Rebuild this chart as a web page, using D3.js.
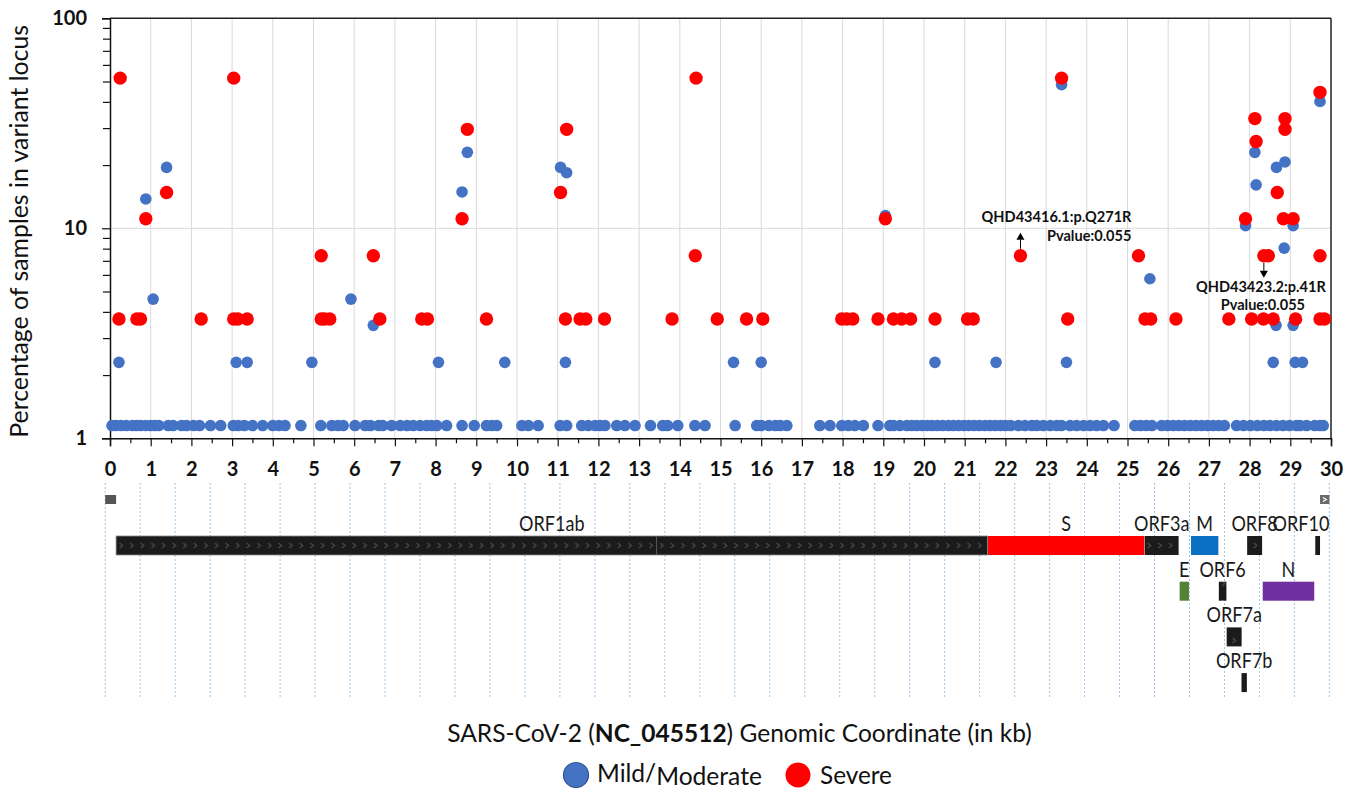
<!DOCTYPE html>
<html>
<head>
<meta charset="utf-8">
<script src="https://cdn.jsdelivr.net/npm/d3@7"></script>
<style>
  html, body { margin: 0; padding: 0; background: #fff; }
  svg { display: block; }
</style>
</head>
<body>
<svg id="chart" width="1355" height="788"></svg>
<script>
// ---------------- DATA ----------------
// Mild/Moderate (n=87): [genomic position in kb, % of samples]
const mildPoints = [
  [0.22,2.3],[0.88,13.8],[1.06,4.6],[1.39,19.5],[3.1,2.3],[3.37,2.3],[4.96,2.3],[5.92,4.6],
  [6.47,3.45],[8.07,2.3],[8.65,14.9],[8.78,23.0],[9.7,2.3],[11.07,19.5],[11.22,18.4],[11.19,2.3],
  [15.32,2.3],[16.0,2.3],[19.05,11.5],[20.27,2.3],[21.77,2.3],[23.38,48.3],[23.5,2.3],[25.55,5.75],
  [27.9,10.3],[28.13,23.0],[28.16,16.1],[28.58,2.3],[28.65,3.45],[28.66,19.5],[28.85,8.05],
  [28.87,20.7],[29.07,10.3],[29.07,3.45],[29.12,2.3],[29.3,2.3],[29.73,40.2]
];
// Mild/Moderate loci seen in a single sample (1/87 = 1.15 %)
const mildSingleKb = [
  0.05,0.15,0.27,0.4,0.55,0.65,0.75,0.88,1.0,1.1,1.2,1.43,1.55,1.76,1.88,2.05,2.2,2.47,2.72,
  3.03,3.15,3.3,3.5,3.75,4.0,4.15,4.3,4.69,5.18,5.45,5.6,5.73,6.02,6.27,6.4,6.6,6.7,6.92,
  7.13,7.3,7.45,7.62,7.78,7.9,8.03,8.27,8.65,8.95,9.25,9.38,9.5,10.12,10.28,10.52,11.06,11.22,
  11.59,11.75,11.92,12.04,12.16,12.45,12.65,12.9,13.28,13.58,13.7,13.95,14.37,14.62,15.36,
  15.89,16.0,16.19,16.35,16.47,16.63,17.44,17.69,17.98,18.14,18.3,18.51,18.87,19.16,
  19.25,19.41,19.58,19.7,19.82,19.95,20.08,20.2,20.33,20.46,20.6,20.72,20.85,20.98,21.1,21.23,
  21.36,21.5,21.62,21.75,21.88,22.0,22.13,22.32,22.48,22.65,22.77,22.93,23.1,23.26,23.38,
  23.59,23.75,23.92,24.08,24.24,24.41,24.67,25.18,25.32,25.46,25.6,25.84,25.98,26.12,26.26,
  26.4,26.54,26.68,26.82,26.96,27.1,27.24,27.38,27.68,27.85,28.02,28.19,28.35,28.5,28.66,
  28.82,28.98,29.15,29.24,29.4,29.6,29.73,29.81
];
const mildSingleValue = 1.15;

// Severe (n=27): [genomic position in kb, % of samples]
const severePoints = [
  [0.25,51.9],[0.22,3.7],[0.66,3.7],[0.75,3.7],[0.88,11.1],[1.39,14.8],[2.24,3.7],[3.04,51.9],
  [3.04,3.7],[3.14,3.7],[3.37,3.7],[5.19,7.4],[5.19,3.7],[5.27,3.7],[5.4,3.7],[6.47,7.4],
  [6.63,3.7],[7.66,3.7],[7.8,3.7],[8.65,11.1],[8.78,29.6],[9.25,3.7],[11.07,14.8],[11.22,29.6],
  [11.19,3.7],[11.55,3.7],[11.69,3.7],[12.15,3.7],[13.81,3.7],[14.4,51.9],[14.38,7.4],
  [14.92,3.7],[15.64,3.7],[16.04,3.7],[17.98,3.7],[18.1,3.7],[18.25,3.7],[18.87,3.7],
  [19.05,11.1],[19.25,3.7],[19.45,3.7],[19.67,3.7],[20.27,3.7],[21.07,3.7],[21.21,3.7],
  [22.37,7.4],[23.38,51.9],[23.53,3.7],[25.27,7.4],[25.43,3.7],[25.57,3.7],[26.19,3.7],
  [27.49,3.7],[27.9,11.1],[28.13,33.3],[28.16,25.9],[28.05,3.7],[28.34,3.7],[28.58,3.7],
  [28.35,7.4],[28.46,7.4],[28.68,14.8],[28.87,33.3],[28.87,29.6],[28.83,11.1],[29.07,11.1],
  [29.13,3.7],[29.73,44.4],[29.73,7.4],[29.73,3.7],[29.84,3.7]
];

// Axis ticks
const xTicks = d3.range(0, 31, 1);
const yTicks = [1, 10, 100];

// Annotations: [kb, %, line1, line2]
const annotations = [
  [22.37, 7.4, "QHD43416.1:p.Q271R", "Pvalue:0.055"],
  [28.35, 7.4, "QHD43423.2:p.41R", "Pvalue:0.055"]
];

// Genome annotation (NC_045512, bp)
const genomeLength = 29903;
const geneNames = ["ORF1ab","S","ORF3a","E","M","ORF6","ORF7a","ORF7b","ORF8","N","ORF10"];
const geneStart = [266, 21563, 25393, 26245, 26523, 27202, 27394, 27756, 27894, 28274, 29558];
const geneEnd   = [21555, 25384, 26220, 26472, 27191, 27387, 27759, 27887, 28259, 29533, 29674];
const geneLane  = [1, 1, 1, 2, 1, 2, 3, 4, 1, 2, 1];
const orf1abFrameshift = 13468;
const utrs = [[0, 266], [29674, 29903]];

// ---------------- STYLE ----------------
const geneColor = { S: "#ff0000", M: "#0b70c4", E: "#548235", N: "#7030a0" };
const blackGene = "#1b1b1b";
const chevronGenes = ["ORF1ab","ORF3a","ORF6","ORF7a","ORF8"];
const BLUE = "#4472c4", RED = "#ff0000";

const svg = d3.select("#chart");
svg.append("rect").attr("width", 1355).attr("height", 788).attr("fill", "#fff");

const x = d3.scaleLinear().domain([0, 30]).range([110, 1331]);
const y = d3.scaleLog().domain([1, 100]).range([438.3, 18.3]);
const g = d3.scaleLinear().domain([0, genomeLength]).range([105.2, 1329.4]);

const plotTop = y(100), plotBottom = y(1), plotLeft = x(0), plotRight = x(30);

function fitWidth(sel, target) {
  const w = sel.node().getComputedTextLength();
  const fs = parseFloat(sel.attr("font-size"));
  sel.attr("font-size", fs * target / w);
}

// ---- grid ----
const grid = svg.append("g");
grid.selectAll("line.vg").data(xTicks.slice(1, -1)).join("line")
  .attr("x1", d => x(d)).attr("x2", d => x(d))
  .attr("y1", plotTop).attr("y2", plotBottom)
  .attr("stroke", "#d9d9d9").attr("stroke-width", 1);
grid.append("line")
  .attr("x1", plotLeft).attr("x2", plotRight)
  .attr("y1", y(10)).attr("y2", y(10))
  .attr("stroke", "#d9d9d9").attr("stroke-width", 1);

// frame (top/right)
svg.append("line").attr("x1", plotLeft).attr("x2", plotRight).attr("y1", plotTop).attr("y2", plotTop)
  .attr("stroke", "#222").attr("stroke-width", 1.5);
svg.append("line").attr("x1", plotRight).attr("x2", plotRight).attr("y1", plotTop).attr("y2", plotBottom)
  .attr("stroke", "#222").attr("stroke-width", 1.5);

// ---- axes ----
const xAxis = svg.append("g").attr("transform", `translate(0,${plotBottom})`)
  .call(d3.axisBottom(x).tickValues(xTicks).tickSize(8).tickFormat(d3.format("d")));
svg.append("g").attr("transform", `translate(0,${plotBottom})`)
  .call(d3.axisBottom(x).tickValues(d3.range(0.5, 30, 1)).tickSize(5).tickFormat(""))
  .call(s => s.select(".domain").remove());
xAxis.selectAll("text").attr("y", 38).attr("dy", 0)
  .attr("font-family", "Lato, sans-serif").attr("font-weight", "bold")
  .attr("font-size", 20).attr("fill", "#111");

const yAxis = svg.append("g").attr("transform", `translate(${plotLeft},0)`)
  .call(d3.axisLeft(y).tickValues(yTicks).tickSize(8).tickFormat(d3.format("d")));
const yMinor = [];
[1, 10].forEach(b => { for (let k = 2; k <= 9; k++) yMinor.push(b * k); });
svg.append("g").attr("transform", `translate(${plotLeft},0)`)
  .call(d3.axisLeft(y).tickValues(yMinor).tickSize(7).tickFormat(""))
  .call(s => s.select(".domain").remove());
yAxis.selectAll("text").attr("x", -23)
  .attr("font-family", "Lato, sans-serif").attr("font-weight", "bold")
  .attr("font-size", 20).attr("fill", "#111");
svg.selectAll(".domain").attr("stroke", "#111").attr("stroke-width", 1.5);
svg.selectAll(".tick line").attr("stroke", "#111").attr("stroke-width", 1.2);

// y title
const yTitle = svg.append("text")
  .attr("transform", `translate(28,${(plotTop + plotBottom) / 2 + 3}) rotate(-90)`)
  .attr("text-anchor", "middle")
  .attr("font-family", "Lato, sans-serif").attr("font-size", 22).attr("fill", "#111")
  .text("Percentage of samples in variant locus");
fitWidth(yTitle, 413);

// ---- points ----
const pts = svg.append("g");
pts.selectAll("circle.single").data(mildSingleKb).join("circle")
  .attr("cx", d => x(d)).attr("cy", y(mildSingleValue)).attr("r", 5.8).attr("fill", BLUE);
pts.selectAll("circle.mild").data(mildPoints).join("circle")
  .attr("class", "mild")
  .attr("cx", d => x(d[0])).attr("cy", d => y(d[1])).attr("r", 5.8).attr("fill", BLUE);
pts.selectAll("circle.sev").data(severePoints).join("circle")
  .attr("class", "sev")
  .attr("cx", d => x(d[0])).attr("cy", d => y(d[1])).attr("r", 6.7).attr("fill", RED);

// ---- annotations ----
function arrow(x0, yFrom, yTip) {
  const dir = yTip < yFrom ? -1 : 1;
  const headLen = 7, headW = 4;
  svg.append("line").attr("x1", x0).attr("x2", x0).attr("y1", yFrom).attr("y2", yTip - dir * headLen)
    .attr("stroke", "#000").attr("stroke-width", 1);
  svg.append("path")
    .attr("d", `M${x0},${yTip} L${x0 - headW},${yTip - dir * headLen} L${x0 + headW},${yTip - dir * headLen} Z`)
    .attr("fill", "#000");
}
{
  const [kb, v, l1, l2] = annotations[0];
  const px = x(kb), py = y(v);
  arrow(px, py - 7, py - 23);
  const t1 = svg.append("text").attr("x", px + 111).attr("y", py - 34).attr("text-anchor", "end")
    .attr("font-family", "Lato, sans-serif").attr("font-weight", "bold").attr("font-size", 16)
    .attr("fill", "#111").text(l1);
  fitWidth(t1, 150);
  svg.append("text").attr("x", px + 111).attr("y", py - 15).attr("text-anchor", "end")
    .attr("font-family", "Lato, sans-serif").attr("font-weight", "bold").attr("font-size", t1.attr("font-size"))
    .attr("fill", "#111").text(l2);
}
{
  const [kb, v, l1, l2] = annotations[1];
  const px = x(kb), py = y(v);
  arrow(px, py + 7, py + 22);
  const t1 = svg.append("text").attr("x", px - 3).attr("y", py + 36).attr("text-anchor", "middle")
    .attr("font-family", "Lato, sans-serif").attr("font-weight", "bold").attr("font-size", 16)
    .attr("fill", "#111").text(l1);
  fitWidth(t1, 130);
  svg.append("text").attr("x", px - 1).attr("y", py + 54).attr("text-anchor", "middle")
    .attr("font-family", "Lato, sans-serif").attr("font-weight", "bold").attr("font-size", t1.attr("font-size"))
    .attr("fill", "#111").text(l2);
}

// ---------------- GENOME TRACK ----------------
const track = svg.append("g");
const laneTop = lane => 536 + (lane - 1) * 45.7;
const barH = 19;

// dotted grid (35 equal divisions of the genome)
track.selectAll("line.tg").data(d3.range(0, 36)).join("line")
  .attr("x1", d => g(d * genomeLength / 35)).attr("x2", d => g(d * genomeLength / 35))
  .attr("y1", 483).attr("y2", 697)
  .attr("stroke", "#9dc3e6").attr("stroke-width", 1).attr("stroke-dasharray", "2,2");

// chevron pattern
const defs = svg.append("defs");
const pat = defs.append("pattern").attr("id", "chev").attr("patternUnits", "userSpaceOnUse")
  .attr("x", g(geneStart[0])).attr("y", laneTop(1)).attr("width", 10.6).attr("height", barH);
pat.append("rect").attr("width", 10.6).attr("height", barH).attr("fill", blackGene);
pat.append("path").attr("d", "M3.5,7 L6.5,9.5 L3.5,12").attr("fill", "none")
  .attr("stroke", "#4a4a4a").attr("stroke-width", 1.2);

// UTR boxes
track.selectAll("rect.utr").data(utrs).join("rect")
  .attr("x", d => g(d[0])).attr("width", d => g(d[1]) - g(d[0]))
  .attr("y", 495).attr("height", 9).attr("fill", (d, i) => i === 0 ? "#555" : "#6a6a6a");
track.append("path")
  .attr("d", () => {
    const cx = (g(utrs[1][0]) + g(utrs[1][1])) / 2;
    return `M${cx - 1.8},497.5 L${cx + 1.6},499.5 L${cx - 1.8},501.5`;
  })
  .attr("fill", "none").attr("stroke", "#fff").attr("stroke-width", 1.2);

// gene bars
const genes = geneNames.map((n, i) => ({ name: n, s: geneStart[i], e: geneEnd[i], lane: geneLane[i] }));
track.selectAll("rect.gene").data(genes).join("rect")
  .attr("x", d => g(d.s)).attr("width", d => Math.max(3.5, g(d.e) - g(d.s)))
  .attr("y", d => laneTop(d.lane)).attr("height", barH)
  .attr("fill", d => geneColor[d.name] ? geneColor[d.name] : (chevronGenes.includes(d.name) ? "url(#chev)" : blackGene))
  .attr("stroke", d => d.name === "ORF1ab" ? "#8a8a8a" : "none").attr("stroke-width", 0.8);
// ORF1a / ORF1b frameshift seam
track.append("line")
  .attr("x1", g(orf1abFrameshift)).attr("x2", g(orf1abFrameshift))
  .attr("y1", laneTop(1)).attr("y2", laneTop(1) + barH)
  .attr("stroke", "#5a5a5a").attr("stroke-width", 1);

// gene labels
const labelScaleX = 0.86;
const trackRight = g(genomeLength);
genes.forEach(d => {
  const cx = (g(d.s) + g(d.e)) / 2;
  const t = track.append("text")
    .attr("text-anchor", "middle")
    .attr("font-family", "Lato, sans-serif").attr("font-size", 21).attr("fill", "#1a1a1a")
    .text(d.name);
  const w = t.node().getComputedTextLength() * labelScaleX;
  let lx = cx;
  if (lx + w / 2 > trackRight) lx = trackRight - w / 2;
  t.attr("transform", `translate(${lx},${laneTop(d.lane) - 5}) scale(${labelScaleX},1)`);
});

// ---------------- X TITLE & LEGEND ----------------
const xt = svg.append("text").attr("x", 739.5).attr("y", 742).attr("text-anchor", "middle")
  .attr("font-family", "Lato, sans-serif").attr("font-size", 23).attr("fill", "#111");
xt.append("tspan").text("SARS-CoV-2 (");
xt.append("tspan").attr("font-weight", "bold").text("NC_045512");
xt.append("tspan").text(") Genomic Coordinate (in kb)");
fitWidth(xt, 585);

const legend = svg.append("g");
legend.append("circle").attr("cx", 576).attr("cy", 775).attr("r", 12.5)
  .attr("fill", BLUE).attr("stroke", "#2f528f").attr("stroke-width", 1.2);
const lt1 = legend.append("text").attr("x", 597).attr("y", 782)
  .attr("font-family", "Lato, sans-serif").attr("font-size", 23).attr("fill", "#111");
lt1.append("tspan").text("Mild/");
lt1.append("tspan").attr("dy", 2.5).text("Moderate");
fitWidth(lt1, 165);
legend.append("circle").attr("cx", 798).attr("cy", 775).attr("r", 12.5)
  .attr("fill", RED);
const lt2 = legend.append("text").attr("x", 820).attr("y", 783.5)
  .attr("font-family", "Lato, sans-serif").attr("font-size", 23).attr("fill", "#111")
  .text("Severe");
fitWidth(lt2, 72);
</script>
</body>
</html>
